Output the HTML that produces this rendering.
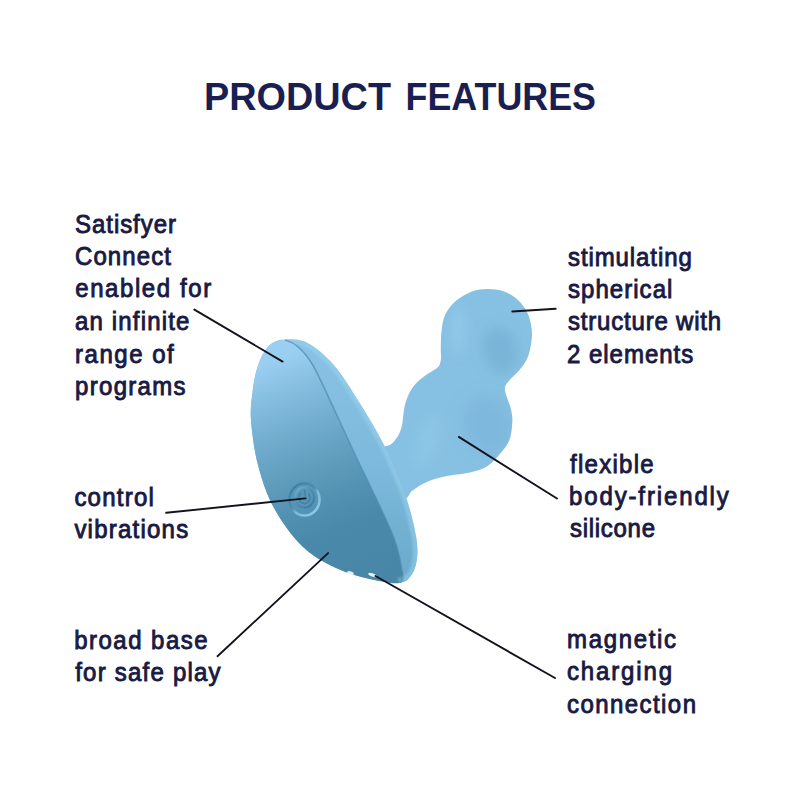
<!DOCTYPE html>
<html><head><meta charset="utf-8">
<style>
html,body{margin:0;padding:0;background:#fff;width:800px;height:800px;overflow:hidden}
svg{display:block}
.t{font-family:"Liberation Sans",sans-serif;font-size:25px;fill:#181a44;stroke:#181a44;stroke-width:0.9px}
.h{font-family:"Liberation Sans",sans-serif;font-weight:bold;font-size:38px;fill:#1b1e50}
.ln{stroke:#11131f;stroke-width:1.9;fill:none;stroke-linecap:round}
</style></head>
<body>
<svg width="800" height="800" viewBox="0 0 800 800">
<defs>
<linearGradient id="face" x1="300" y1="350" x2="388" y2="573" gradientUnits="userSpaceOnUse">
<stop offset="0.000" stop-color="#9acff2"/>
<stop offset="0.125" stop-color="#88c0e2"/>
<stop offset="0.250" stop-color="#78b2d4"/>
<stop offset="0.375" stop-color="#6aa6c7"/>
<stop offset="0.500" stop-color="#5e9bbb"/>
<stop offset="0.625" stop-color="#5391b2"/>
<stop offset="0.750" stop-color="#4b89aa"/>
<stop offset="1.000" stop-color="#4886a7"/>
</linearGradient>
<linearGradient id="rim" x1="0" y1="350" x2="0" y2="580" gradientUnits="userSpaceOnUse">
<stop offset="0" stop-color="#88c1e3"/>
<stop offset="0.5" stop-color="#7db9dc"/>
<stop offset="1" stop-color="#6aaacb"/>
</linearGradient>
<radialGradient id="sh1" cx="500" cy="348" r="28" gradientUnits="userSpaceOnUse">
<stop offset="0" stop-color="#6aa8ce" stop-opacity="0.55"/>
<stop offset="0.5" stop-color="#6aa8ce" stop-opacity="0.3"/>
<stop offset="1" stop-color="#6aa8ce" stop-opacity="0"/>
</radialGradient>
<radialGradient id="sh2" cx="482" cy="425" r="38" gradientUnits="userSpaceOnUse">
<stop offset="0" stop-color="#6eaad0" stop-opacity="0.4"/>
<stop offset="0.6" stop-color="#6eaad0" stop-opacity="0.22"/>
<stop offset="1" stop-color="#6eaad0" stop-opacity="0"/>
</radialGradient>
<linearGradient id="btnring" x1="292" y1="486" x2="317" y2="513" gradientUnits="userSpaceOnUse">
<stop offset="0" stop-color="#447fa3"/>
<stop offset="0.45" stop-color="#4f8db0"/>
<stop offset="0.6" stop-color="#7ab9da"/>
<stop offset="1" stop-color="#8ccbe8"/>
</linearGradient>
<linearGradient id="btnin" x1="296" y1="489" x2="313" y2="506" gradientUnits="userSpaceOnUse">
<stop offset="0" stop-color="#6fb0d2"/>
<stop offset="0.5" stop-color="#4d8bb0"/>
<stop offset="1" stop-color="#3d7ba0"/>
</linearGradient>
<clipPath id="stemclip"><path d="M372.00 447.00 C374.08 437.58 381.17 447.08 384.50 446.50 C387.83 445.92 389.67 445.42 392.00 443.50 C394.33 441.58 396.87 437.92 398.50 435.00 C400.13 432.08 401.05 428.83 401.80 426.00 C402.55 423.17 402.55 421.17 403.00 418.00 C403.45 414.83 403.67 410.67 404.50 407.00 C405.33 403.33 406.58 399.33 408.00 396.00 C409.42 392.67 411.17 389.58 413.00 387.00 C414.83 384.42 416.83 382.50 419.00 380.50 C421.17 378.50 423.50 376.75 426.00 375.00 C428.50 373.25 431.83 371.50 434.00 370.00 C436.17 368.50 437.83 367.92 439.00 366.00 C440.17 364.08 440.70 361.25 441.00 358.50 C441.30 355.75 440.76 353.50 440.80 349.50 C440.84 345.50 440.80 339.50 441.25 334.50 C441.70 329.50 442.29 323.75 443.50 319.50 C444.71 315.25 446.25 312.25 448.50 309.00 C450.75 305.75 453.08 302.92 457.00 300.00 C460.92 297.08 466.92 293.33 472.00 291.50 C477.08 289.67 482.17 289.00 487.50 289.00 C492.83 289.00 499.00 289.75 504.00 291.50 C509.00 293.25 513.58 295.92 517.50 299.50 C521.42 303.08 525.12 308.00 527.50 313.00 C529.88 318.00 531.17 324.25 531.75 329.50 C532.33 334.75 531.79 339.58 531.00 344.50 C530.21 349.42 528.92 354.75 527.00 359.00 C525.08 363.25 522.08 366.83 519.50 370.00 C516.92 373.17 513.79 375.50 511.50 378.00 C509.21 380.50 506.83 382.92 505.75 385.00 C504.67 387.08 504.71 388.17 505.00 390.50 C505.29 392.83 506.50 395.83 507.50 399.00 C508.50 402.17 510.20 405.67 511.00 409.50 C511.80 413.33 512.57 416.92 512.30 422.00 C512.03 427.08 511.45 434.71 509.40 440.00 C507.35 445.29 503.75 449.33 500.00 453.75 C496.25 458.17 491.90 463.38 486.90 466.50 C481.90 469.62 476.88 470.88 470.00 472.50 C463.12 474.12 452.78 474.67 445.60 476.25 C438.42 477.83 432.52 479.54 426.90 482.00 C421.28 484.46 415.72 488.17 411.90 491.00 C408.08 493.83 410.65 497.00 404.00 499.00 C397.35 501.00 377.33 511.67 372.00 503.00 C366.67 494.33 369.92 456.42 372.00 447.00 Z"/></clipPath>
<clipPath id="baseclip"><path d="M285.00 339.40 C291.04 339.27 299.38 338.73 307.50 343.00 C315.62 347.27 325.00 354.92 333.75 365.00 C342.50 375.08 351.54 390.00 360.00 403.50 C368.46 417.00 377.00 430.92 384.50 446.00 C392.00 461.08 399.71 478.75 405.00 494.00 C410.29 509.25 414.33 526.17 416.25 537.50 C418.17 548.83 417.54 555.42 416.50 562.00 C415.46 568.58 412.85 573.58 410.00 577.00 C407.15 580.42 406.07 582.17 399.40 582.50 C392.73 582.83 380.73 581.50 370.00 579.00 C359.27 576.50 346.33 573.00 335.00 567.50 C323.67 562.00 312.17 555.92 302.00 546.00 C291.83 536.08 281.33 521.50 274.00 508.00 C266.67 494.50 261.83 479.67 258.00 465.00 C254.17 450.33 251.92 432.08 251.00 420.00 C250.08 407.92 251.62 400.62 252.50 392.50 C253.38 384.38 254.58 377.50 256.25 371.25 C257.92 365.00 260.00 359.58 262.50 355.00 C265.00 350.42 267.50 346.35 271.25 343.75 C275.00 341.15 278.96 339.52 285.00 339.40 Z"/></clipPath>
<filter id="blur6" x="-100%" y="-100%" width="300%" height="300%"><feGaussianBlur stdDeviation="6"/></filter>
<filter id="blur8" x="-100%" y="-100%" width="300%" height="300%"><feGaussianBlur stdDeviation="8"/></filter>
<filter id="blur1" x="-10%" y="-10%" width="120%" height="120%"><feGaussianBlur stdDeviation="1.2"/></filter>
<filter id="blur2" x="-10%" y="-10%" width="120%" height="120%"><feGaussianBlur stdDeviation="0.6"/></filter>
</defs>
<rect width="800" height="800" fill="#fff"/>

<text class="h" x="204" y="109.5" textLength="187" lengthAdjust="spacingAndGlyphs">PRODUCT</text>
<text class="h" x="405.5" y="109.5" textLength="190.5" lengthAdjust="spacingAndGlyphs">FEATURES</text>

<path fill="#86c0e2" d="M372.00 447.00 C374.08 437.58 381.17 447.08 384.50 446.50 C387.83 445.92 389.67 445.42 392.00 443.50 C394.33 441.58 396.87 437.92 398.50 435.00 C400.13 432.08 401.05 428.83 401.80 426.00 C402.55 423.17 402.55 421.17 403.00 418.00 C403.45 414.83 403.67 410.67 404.50 407.00 C405.33 403.33 406.58 399.33 408.00 396.00 C409.42 392.67 411.17 389.58 413.00 387.00 C414.83 384.42 416.83 382.50 419.00 380.50 C421.17 378.50 423.50 376.75 426.00 375.00 C428.50 373.25 431.83 371.50 434.00 370.00 C436.17 368.50 437.83 367.92 439.00 366.00 C440.17 364.08 440.70 361.25 441.00 358.50 C441.30 355.75 440.76 353.50 440.80 349.50 C440.84 345.50 440.80 339.50 441.25 334.50 C441.70 329.50 442.29 323.75 443.50 319.50 C444.71 315.25 446.25 312.25 448.50 309.00 C450.75 305.75 453.08 302.92 457.00 300.00 C460.92 297.08 466.92 293.33 472.00 291.50 C477.08 289.67 482.17 289.00 487.50 289.00 C492.83 289.00 499.00 289.75 504.00 291.50 C509.00 293.25 513.58 295.92 517.50 299.50 C521.42 303.08 525.12 308.00 527.50 313.00 C529.88 318.00 531.17 324.25 531.75 329.50 C532.33 334.75 531.79 339.58 531.00 344.50 C530.21 349.42 528.92 354.75 527.00 359.00 C525.08 363.25 522.08 366.83 519.50 370.00 C516.92 373.17 513.79 375.50 511.50 378.00 C509.21 380.50 506.83 382.92 505.75 385.00 C504.67 387.08 504.71 388.17 505.00 390.50 C505.29 392.83 506.50 395.83 507.50 399.00 C508.50 402.17 510.20 405.67 511.00 409.50 C511.80 413.33 512.57 416.92 512.30 422.00 C512.03 427.08 511.45 434.71 509.40 440.00 C507.35 445.29 503.75 449.33 500.00 453.75 C496.25 458.17 491.90 463.38 486.90 466.50 C481.90 469.62 476.88 470.88 470.00 472.50 C463.12 474.12 452.78 474.67 445.60 476.25 C438.42 477.83 432.52 479.54 426.90 482.00 C421.28 484.46 415.72 488.17 411.90 491.00 C408.08 493.83 410.65 497.00 404.00 499.00 C397.35 501.00 377.33 511.67 372.00 503.00 C366.67 494.33 369.92 456.42 372.00 447.00 Z"/>
<g clip-path="url(#stemclip)">
<ellipse cx="500" cy="350" rx="17" ry="24" transform="rotate(-15 500 350)" fill="#6aa6cc" fill-opacity="0.45" filter="url(#blur6)"/>
<ellipse cx="458" cy="330" rx="7" ry="24" fill="#a4d9f5" fill-opacity="0.35" filter="url(#blur6)"/>
<ellipse cx="488" cy="425" rx="24" ry="30" transform="rotate(-20 488 425)" fill="#6eaad0" fill-opacity="0.35" filter="url(#blur8)"/>
<ellipse cx="428" cy="440" rx="12" ry="28" transform="rotate(20 428 440)" fill="#a0d6f4" fill-opacity="0.25" filter="url(#blur6)"/>
</g>
<path fill="url(#rim)" d="M285.00 339.40 C291.04 339.27 299.38 338.73 307.50 343.00 C315.62 347.27 325.00 354.92 333.75 365.00 C342.50 375.08 351.54 390.00 360.00 403.50 C368.46 417.00 377.00 430.92 384.50 446.00 C392.00 461.08 399.71 478.75 405.00 494.00 C410.29 509.25 414.33 526.17 416.25 537.50 C418.17 548.83 417.54 555.42 416.50 562.00 C415.46 568.58 412.85 573.58 410.00 577.00 C407.15 580.42 406.07 582.17 399.40 582.50 C392.73 582.83 380.73 581.50 370.00 579.00 C359.27 576.50 346.33 573.00 335.00 567.50 C323.67 562.00 312.17 555.92 302.00 546.00 C291.83 536.08 281.33 521.50 274.00 508.00 C266.67 494.50 261.83 479.67 258.00 465.00 C254.17 450.33 251.92 432.08 251.00 420.00 C250.08 407.92 251.62 400.62 252.50 392.50 C253.38 384.38 254.58 377.50 256.25 371.25 C257.92 365.00 260.00 359.58 262.50 355.00 C265.00 350.42 267.50 346.35 271.25 343.75 C275.00 341.15 278.96 339.52 285.00 339.40 Z"/>
<path fill="url(#face)" d="M285.00 340.00 C289.29 340.38 292.38 341.83 297.00 346.00 C301.62 350.17 306.33 353.96 312.75 365.00 C319.17 376.04 328.21 396.79 335.50 412.25 C342.79 427.71 349.92 443.79 356.50 457.75 C363.08 471.71 368.79 482.71 375.00 496.00 C381.21 509.29 389.42 526.00 393.75 537.50 C398.08 549.00 399.71 557.50 401.00 565.00 C402.29 572.50 406.67 580.17 401.50 582.50 C396.33 584.83 381.08 581.50 370.00 579.00 C358.92 576.50 346.33 573.00 335.00 567.50 C323.67 562.00 312.17 555.92 302.00 546.00 C291.83 536.08 281.33 521.50 274.00 508.00 C266.67 494.50 261.83 479.67 258.00 465.00 C254.17 450.33 251.92 432.08 251.00 420.00 C250.08 407.92 251.62 400.62 252.50 392.50 C253.38 384.38 254.58 377.50 256.25 371.25 C257.92 365.00 260.00 359.58 262.50 355.00 C265.00 350.42 267.50 346.25 271.25 343.75 C275.00 341.25 280.71 339.62 285.00 340.00 Z"/>
<g clip-path="url(#baseclip)">
<path fill="none" stroke="#9fd6f2" stroke-width="9" stroke-opacity="0.45" filter="url(#blur1)" d="M285.00 339.40 C288.75 340.00 299.38 338.73 307.50 343.00 C315.62 347.27 325.00 354.92 333.75 365.00 C342.50 375.08 351.54 390.00 360.00 403.50 C368.46 417.00 377.00 430.92 384.50 446.00 C392.00 461.08 399.71 478.75 405.00 494.00 C410.29 509.25 414.33 526.17 416.25 537.50 C418.17 548.83 417.54 555.42 416.50 562.00 C415.46 568.58 412.85 573.58 410.00 577.00 C407.15 580.42 401.17 581.58 399.40 582.50"/>
<path fill="none" stroke="#4e8cb0" stroke-width="1.6" stroke-opacity="0.7" filter="url(#blur2)" d="M285.00 340.00 C287.00 341.00 292.38 341.83 297.00 346.00 C301.62 350.17 306.33 353.96 312.75 365.00 C319.17 376.04 328.21 396.79 335.50 412.25 C342.79 427.71 349.92 443.79 356.50 457.75 C363.08 471.71 368.79 482.71 375.00 496.00 C381.21 509.29 389.42 526.00 393.75 537.50 C398.08 549.00 399.71 557.50 401.00 565.00 C402.29 572.50 401.42 579.58 401.50 582.50"/>
</g>

<!-- power button -->
<ellipse cx="304.5" cy="499.5" rx="15" ry="16" fill="#5898bb" fill-opacity="0.3" stroke="url(#btnring)" stroke-width="2.6"/>
<ellipse cx="304.5" cy="497.5" rx="9.5" ry="10" fill="none" stroke="url(#btnin)" stroke-width="2"/>
<path d="M301.5 492.5 A5.5 6 0 1 0 308.5 493.5" fill="none" stroke="#3f7ea2" stroke-width="1.5" stroke-opacity="0.85"/>
<line x1="304.5" y1="489.5" x2="305.5" y2="497" stroke="#3f7ea2" stroke-width="1.5" stroke-opacity="0.85"/>
<!-- connectors -->
<ellipse cx="350.5" cy="573" rx="3.5" ry="1.6" transform="rotate(20 350.5 573)" fill="#e6f0f5"/>
<ellipse cx="372.5" cy="575" rx="4.5" ry="1.7" transform="rotate(20 372.5 575)" fill="#e6f0f5"/>

<!-- leader lines -->
<line class="ln" x1="194.4" y1="309.6" x2="282.6" y2="361.6"/>
<line class="ln" x1="512.3" y1="311.5" x2="555.7" y2="308.75"/>
<line class="ln" x1="458.8" y1="436.9" x2="557" y2="498.5"/>
<line class="ln" x1="166.2" y1="512.8" x2="305.6" y2="498.4"/>
<line class="ln" x1="217.5" y1="656.2" x2="328.1" y2="553.1"/>
<line class="ln" x1="375.5" y1="576" x2="555" y2="678"/>

<text class="t" transform="translate(75.00 232.75) scale(0.960 1)" textLength="105.21" lengthAdjust="spacing">Satisfyer</text>
<text class="t" transform="translate(75.00 265.05) scale(0.960 1)" textLength="100.00" lengthAdjust="spacing">Connect</text>
<text class="t" transform="translate(75.20 297.35) scale(0.960 1)" textLength="141.67" lengthAdjust="spacing">enabled for</text>
<text class="t" transform="translate(75.00 330.20) scale(0.960 1)" textLength="119.17" lengthAdjust="spacing">an infinite</text>
<text class="t" transform="translate(75.00 363.00) scale(0.960 1)" textLength="102.92" lengthAdjust="spacing">range of</text>
<text class="t" transform="translate(75.00 395.00) scale(0.960 1)" textLength="115.21" lengthAdjust="spacing">programs</text>
<text class="t" transform="translate(74.40 505.80) scale(0.960 1)" textLength="82.71" lengthAdjust="spacing">control</text>
<text class="t" transform="translate(74.40 537.50) scale(0.960 1)" textLength="118.54" lengthAdjust="spacing">vibrations</text>
<text class="t" transform="translate(74.20 648.80) scale(0.960 1)" textLength="138.96" lengthAdjust="spacing">broad base</text>
<text class="t" transform="translate(75.20 680.70) scale(0.960 1)" textLength="151.46" lengthAdjust="spacing">for safe play</text>
<text class="t" transform="translate(568.00 265.50) scale(0.960 1)" textLength="128.96" lengthAdjust="spacing">stimulating</text>
<text class="t" transform="translate(568.00 297.80) scale(0.960 1)" textLength="108.75" lengthAdjust="spacing">spherical</text>
<text class="t" transform="translate(568.00 330.30) scale(0.960 1)" textLength="159.58" lengthAdjust="spacing">structure with</text>
<text class="t" transform="translate(567.00 363.20) scale(0.960 1)" textLength="131.46" lengthAdjust="spacing">2 elements</text>
<text class="t" transform="translate(570.00 472.50) scale(0.960 1)" textLength="87.08" lengthAdjust="spacing">flexible</text>
<text class="t" transform="translate(569.00 504.60) scale(0.960 1)" textLength="166.46" lengthAdjust="spacing">body-friendly</text>
<text class="t" transform="translate(570.00 537.30) scale(0.960 1)" textLength="88.54" lengthAdjust="spacing">silicone</text>
<text class="t" transform="translate(567.00 648.00) scale(0.960 1)" textLength="113.54" lengthAdjust="spacing">magnetic</text>
<text class="t" transform="translate(567.00 680.00) scale(0.960 1)" textLength="109.38" lengthAdjust="spacing">charging</text>
<text class="t" transform="translate(567.00 713.00) scale(0.960 1)" textLength="134.38" lengthAdjust="spacing">connection</text>
</svg>
</body></html>
